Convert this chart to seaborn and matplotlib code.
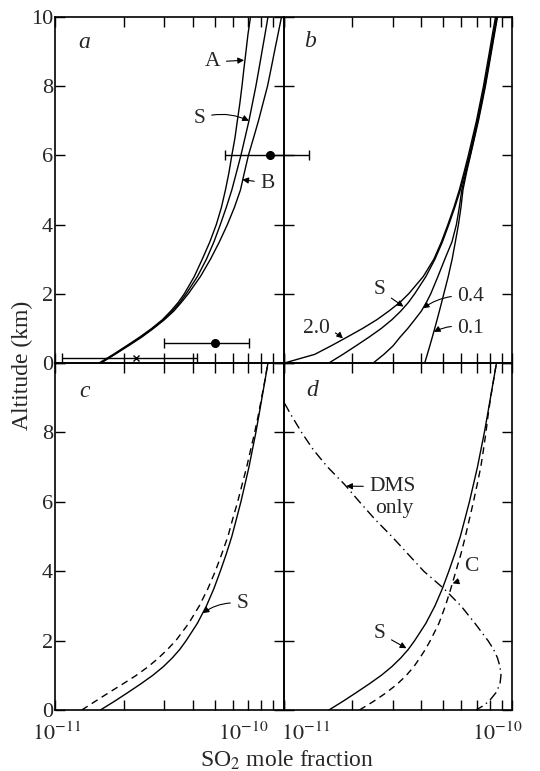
import matplotlib
matplotlib.use("Agg")
import matplotlib.pyplot as plt
import seaborn as sns
import numpy as np
from matplotlib.ticker import LogLocator, NullFormatter, NullLocator

# altitude grid (km); SO2 mole fractions below are in units of 1e-11
alt = [0, 0.25, 0.5, 0.75, 1, 1.25, 1.5, 1.75, 2, 2.5, 3, 3.5, 4, 4.5, 5,
       5.5, 6, 6.5, 7, 7.5, 8, 8.5, 9, 9.5, 10]
s_std = [1.58, 1.82, 2.08, 2.37, 2.68, 2.98, 3.26, 3.52, 3.75, 4.2, 4.6, 4.96, 5.29,
         5.62, 5.94, 6.22, 6.51, 6.78, 7.06, 7.31, 7.57, 7.81, 8.05, 8.3, 8.55]
a_case = [1.56, 1.8, 2.06, 2.35, 2.65, 2.95, 3.21, 3.46, 3.68, 4.07, 4.41, 4.76, 5.08,
          5.35, 5.57, 5.77, 5.94, 6.13, 6.28, 6.44, 6.58, 6.71, 6.85, 6.99, 7.17]
b_case = [1.59, 1.83, 2.1, 2.4, 2.7, 3.01, 3.31, 3.57, 3.83, 4.33, 4.79, 5.24, 5.68,
          6.1, 6.48, 6.74, 7.02, 7.39, 7.77, 8.13, 8.51, 8.82, 9.13, 9.46, 9.8]

# panel b
k20 = [1.01, 1.37, 1.62, 1.9, 2.22, 2.56, 2.89, 3.23, 3.53, 4.09, 4.55, 4.91, 5.24,
       5.57, 5.88, 6.16, 6.44, 6.71, 6.99, 7.24, 7.5, 7.73, 7.97, 8.21, 8.47]
k04 = [2.47, 2.75, 3.02, 3.24, 3.5, 3.75, 4.01, 4.22, 4.41, 4.74, 5.08, 5.46, 5.71,
       5.88, 6.03, 6.28, 6.56, 6.83, 7.09, 7.35, 7.61, 7.85, 8.09, 8.34, 8.59]
k01 = [4.15, 4.26, 4.37, 4.48, 4.59, 4.7, 4.81, 4.92, 5.03, 5.26, 5.47, 5.65, 5.83,
       5.98, 6.1, 6.32, 6.58, 6.85, 7.13, 7.39, 7.65, 7.89, 8.13, 8.38, 8.64]

# panel c dashed, panel d case C
c_dash = [1.31, 1.5, 1.72, 1.98, 2.27, 2.56, 2.84, 3.11, 3.38, 3.85, 4.28, 4.67, 5.03,
          5.37, 5.71, 5.99, 6.3, 6.59, 6.9, 7.18, 7.48, 7.76, 8.02, 8.29, 8.54]
c_case = [2.15, 2.48, 2.82, 3.15, 3.45, 3.72, 3.95, 4.18, 4.39, 4.79, 5.11, 5.4, 5.68,
          5.98, 6.25, 6.51, 6.78, 7.04, 7.3, 7.5, 7.69, 7.86, 8.06, 8.3, 8.55]

# DMS only (panel d)
dms_alt = [8.84, 8.5, 8.0, 7.5, 7.0, 6.5, 6.0, 5.5, 5.0, 4.5, 4.0, 3.5, 3.0, 2.5,
           2.0, 1.75, 1.5, 1.25, 1.0, 0.75, 0.5, 0.25, 0.1, 0.0]
dms_val = [1.01, 1.08, 1.2, 1.35, 1.56, 1.85, 2.15, 2.51, 2.98, 3.5, 4.11, 5.03, 5.98,
           6.88, 7.85, 8.3, 8.64, 8.86, 8.95, 8.86, 8.51, 7.93, 7.39, 6.95]

# observations (panel a)
obs_alt = [6.0, 0.59]
obs_val = [8.77, 5.03]
obs_lo = [5.57, 3.01]
obs_hi = [12.9, 7.03]
x_alt = [0.14]
x_val = [2.27]
x_lo = [1.07]
x_hi = [4.2]

U = 1e-11

sns.set_style("ticks")
plt.rcParams["font.family"] = ["Liberation Serif", "DejaVu Serif"]
plt.rcParams["mathtext.fontset"] = "stix"

W, H = 540, 771
fig = plt.figure(figsize=(W / 100, H / 100), dpi=100)


def box(x0, y0, x1, y1):
    return [x0 / W, 1 - y1 / H, (x1 - x0) / W, (y1 - y0) / H]


ax_a = fig.add_axes(box(55, 17, 283.5, 363))
ax_b = fig.add_axes(box(283.5, 17, 512, 363))
ax_c = fig.add_axes(box(55, 363, 283.5, 710))
ax_d = fig.add_axes(box(283.5, 363, 512, 710))
axes = [ax_a, ax_b, ax_c, ax_d]

for ax in axes:
    ax.set_facecolor("none")
    ax.set_xscale("log")


def curve(ax, vals, alts, ls="-"):
    sns.lineplot(x=np.array(vals) * U, y=alts, ax=ax, sort=False, estimator=None,
                 color="black", linewidth=1.0, linestyle=ls)


dash = (0, (5, 3.5))
dashdot = (0, (7, 3, 1, 3))

# a
curve(ax_a, a_case, alt)
curve(ax_a, s_std, alt)
curve(ax_a, b_case, alt)
cont = ax_a.errorbar(np.array(obs_val) * U, obs_alt,
                     xerr=[(np.array(obs_val) - np.array(obs_lo)) * U,
                           (np.array(obs_hi) - np.array(obs_val)) * U],
                     fmt="o", color="black", ms=5.5, capsize=3.5, elinewidth=1.0, capthick=1.0)
cont2 = ax_a.errorbar(np.array(x_val) * U, x_alt,
                      xerr=[(np.array(x_val) - np.array(x_lo)) * U,
                            (np.array(x_hi) - np.array(x_val)) * U],
                      fmt="x", color="black", ms=4, mew=1.0, capsize=3.5, elinewidth=1.0, capthick=1.0)
for c in (cont, cont2):
    for child in c.get_children():
        child.set_clip_on(False)

# b
curve(ax_b, k20, alt)
curve(ax_b, s_std, alt)
curve(ax_b, k04, alt)
curve(ax_b, k01, alt)

# c
curve(ax_c, s_std, alt)
curve(ax_c, c_dash, alt, dash)

# d
curve(ax_d, s_std, alt)
curve(ax_d, c_case, alt, dash)
curve(ax_d, dms_val, dms_alt, dashdot)

for ax in axes:
    ax.set_xlim(1e-11, 1e-10)
    ax.set_ylim(0, 10)
    ax.set_xlabel("")
    ax.set_ylabel("")
    ax.xaxis.set_major_locator(LogLocator(base=10))
    ax.xaxis.set_minor_locator(LogLocator(base=10, subs=np.arange(2, 10)))
    ax.xaxis.set_minor_formatter(NullFormatter())
    ax.yaxis.set_minor_locator(NullLocator())
    ax.set_yticks([0, 2, 4, 6, 8, 10])
    ax.tick_params(which="both", direction="in", top=True, right=True,
                   labelbottom=False, width=1.0, color="black")
    ax.tick_params(which="major", length=7)
    ax.tick_params(which="minor", length=7)
    ax.tick_params(axis="y", pad=1.5, labelsize=16)
    for sp in ax.spines.values():
        sp.set_linewidth(1.2)
        sp.set_color("black")

ax_a.set_yticklabels(["0", "2", "4", "6", "8", "10"])
ax_c.set_yticklabels(["0", "2", "4", "6", "8", ""])
ax_b.set_yticklabels([])
ax_d.set_yticklabels([])

# x tick labels placed like the original
lab_kw = dict(xycoords=("data", "axes fraction"), textcoords="offset points",
              va="top", fontsize=16)
ax_c.annotate(r"$10^{-11}$", xy=(1e-11, 0), xytext=(1, -9), ha="center", **lab_kw)
ax_c.annotate(r"$10^{-10}$", xy=(1e-10, 0), xytext=(-11, -9), ha="right", **lab_kw)
ax_d.annotate(r"$10^{-11}$", xy=(1e-11, 0), xytext=(-2, -9), ha="left", **lab_kw)
ax_d.annotate(r"$10^{-10}$", xy=(1e-10, 0), xytext=(-11, -9), ha="center", **lab_kw)

# panel letters
for ax, letter, (px, py) in [(ax_a, "a", (0.13, 0.925)), (ax_b, "b", (0.115, 0.928)),
                             (ax_c, "c", (0.13, 0.917)), (ax_d, "d", (0.127, 0.922))]:
    ax.text(px, py, letter, transform=ax.transAxes, fontsize=17, style="italic",
            ha="center", va="center")


def label(ax, text, xy, xytext, rad=0.0):
    ax.annotate(text, xy=(xy[0] * U, xy[1]), xytext=(xytext[0] * U, xytext[1]),
                ha="center", va="center", fontsize=15.5,
                arrowprops=dict(arrowstyle="-|>", color="black", lw=0.8,
                                mutation_scale=9, shrinkA=2, shrinkB=0,
                                connectionstyle=f"arc3,rad={rad}"))


label(ax_a, "A", (6.72, 8.75), (4.9, 8.7))
label(ax_a, "S", (7.06, 7.0), (4.3, 7.08), rad=-0.2)
label(ax_a, "B", (6.6, 5.3), (8.5, 5.2))

label(ax_b, "S", (3.35, 1.63), (2.64, 2.11))
label(ax_b, "2.0", (1.82, 0.71), (1.39, 1.0), rad=-0.2)
label(ax_b, "0.4", (4.07, 1.58), (6.6, 1.92), rad=0.2)
label(ax_b, "0.1", (4.55, 0.9), (6.6, 1.0), rad=0.2)

label(ax_c, "S", (4.43, 2.79), (6.6, 3.07), rad=0.2)

label(ax_d, "DMS", (1.88, 6.45), (3.0, 6.44))
ax_d.text(3.05 * U, 5.82, "only", ha="center", va="center", fontsize=15.5)
label(ax_d, "C", (5.5, 3.65), (6.66, 4.13), rad=-0.2)
label(ax_d, "S", (3.45, 1.78), (2.64, 2.21))

fig.text(22 / W, 1 - 365 / H, "Altitude (km)", rotation=90, ha="center", va="center",
         fontsize=17)
fig.text(287 / W, 0.006, "SO$_2$ mole fraction", ha="center", va="baseline", fontsize=17)

fig.savefig("out.png", dpi=100)
